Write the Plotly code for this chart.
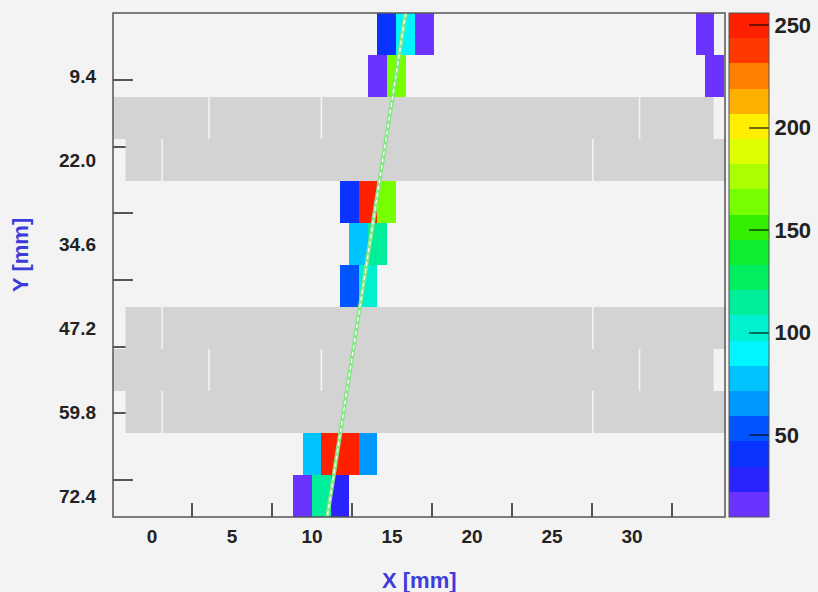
import numpy as np
import plotly.graph_objects as go

# ---------------- data ----------------
x_label_vals = [0, 5, 10, 15, 20, 25, 30]
x_tick_marks = [2.5, 7.5, 12.5, 17.5, 22.5, 27.5, 32.5]
y_label_vals = [9.4, 22.0, 34.6, 47.2, 59.8, 72.4]
y_label_text = ["9.4", "22.0", "34.6", "47.2", "59.8", "72.4"]
y_tick_marks = [10, 20, 30, 40, 50, 60, 70]
cbar_ticks = [50, 100, 150, 200, 250]

# hit cells: row index, left edge [mm], content
cell_rows = [0, 0, 0, 0, 1, 1, 1, 4, 4, 4, 5, 5, 6, 6, 10, 10, 10, 10, 11, 11, 11]
cell_x_left = [14.09, 15.26, 16.43, 33.98, 13.505, 14.675, 34.565, 11.75, 12.92, 14.09,
               12.335, 13.505, 11.75, 12.92, 9.41, 10.58, 11.75, 12.92, 8.825, 9.995, 11.165]
cell_values = [41, 90, 16, 16, 18, 166, 15, 40, 250, 168,
               79, 116, 54, 103, 78, 247, 246, 66, 17, 118, 29]

# inactive (grey) rows and their segment edges [mm]
gray_rows = [2, 3, 7, 8, 9]
gray_edges_even = [-2.875, 3.56, 10.58, 30.47, 35.15]
gray_edges_odd = [-1.705, 0.635, 27.545, 36.32]

# fitted track
fit_y = [-0.05, 75.55]
fit_x = [15.85, 10.95]

# ---------------- geometry / style ----------------
HALF = 0.585
X0 = -2.875
NCOL = 67
ROW0 = -0.05
ROW_H = 6.3
NROW = 12
ZMIN, ZMAX = 10, 256

band_colors = ["#6a33ff", "#2a22ff", "#0a33ff", "#0055ff", "#0099ff", "#00c4ff",
               "#00f6ff", "#00f0d0", "#00ee99", "#00ee60", "#10ec30", "#33ee00",
               "#77ff00", "#aaff00", "#ddff00", "#ffee00", "#ffb000", "#ff8000",
               "#ff3800", "#ff2000"]
nb = len(band_colors)
colorscale = []
for k, c in enumerate(band_colors):
    colorscale.append([k / nb, c])
    colorscale.append([(k + 1) / nb, c])

z = np.full((NROW, NCOL), np.nan)
for r, xl, v in zip(cell_rows, cell_x_left, cell_values):
    c = int(round((xl - X0) / HALF))
    z[r, c] = v
    z[r, c + 1] = v
x_edges = X0 + HALF * np.arange(NCOL + 1)
y_edges = ROW0 + ROW_H * np.arange(NROW + 1)

gx, gy = [], []
gap = 0.05
for r in gray_rows:
    edges = gray_edges_even if r % 2 == 0 else gray_edges_odd
    y0 = ROW0 + ROW_H * r
    y1 = y0 + ROW_H
    for a, b in zip(edges[:-1], edges[1:]):
        a2, b2 = a + gap, b - gap
        gx += [a2, b2, b2, a2, a2, None]
        gy += [y0, y0, y1, y1, y0, None]

BG = "#f3f3f3"
FONT = "Liberation Sans"
lab_font = dict(family=FONT, size=19, color="#222222", weight="bold")
cb_font = dict(family=FONT, size=22, color="#222222", weight="bold")
title_font = dict(family=FONT, size=22, color="#3c3cdc", weight="bold")

fig = go.Figure()
fig.add_trace(go.Scatter(x=gx, y=gy, mode="lines", fill="toself", fillcolor="#d3d3d3",
                         line=dict(width=0, color="#d3d3d3"), hoverinfo="skip", showlegend=False))
fig.add_trace(go.Heatmap(
    z=z, x=x_edges, y=y_edges, zmin=ZMIN, zmax=ZMAX, colorscale=colorscale,
    hoverongaps=False,
    colorbar=dict(x=(729 - 113) / 612, xanchor="left", y=1, yanchor="top", len=1,
                  thickness=40, xpad=0, ypad=0, outlinewidth=1, outlinecolor="#555",
                  tickmode="array", tickvals=cbar_ticks, ticks="inside", ticklen=20,
                  tickwidth=2, tickcolor="rgba(0,0,0,0.55)", tickfont=cb_font)))
fig.add_trace(go.Scatter(x=fit_x, y=fit_y, mode="lines", line=dict(color="#86e686", width=4),
                         hoverinfo="skip", showlegend=False))
fig.add_trace(go.Scatter(x=fit_x, y=fit_y, mode="lines",
                         line=dict(color="#ffffff", width=1.3, dash="4px,3px"),
                         hoverinfo="skip", showlegend=False))

fig.update_layout(
    width=818, height=592,
    margin=dict(l=113, r=93, t=13, b=75, autoexpand=False),
    paper_bgcolor=BG, plot_bgcolor=BG,
    showlegend=False,
    xaxis=dict(range=[-2.44, 35.81], showgrid=False, zeroline=False, showline=False,
               tickmode="array", tickvals=x_label_vals, ticks="inside", ticklen=0,
               tickfont=lab_font, ticklabelstandoff=6, layer="below traces",
               minor=dict(tickmode="array", tickvals=x_tick_marks, ticks="inside",
                          ticklen=14, tickwidth=1.5, tickcolor="#555", showgrid=False)),
    yaxis=dict(range=[75.55, -0.05], showgrid=False, zeroline=False, showline=False,
               tickmode="array", tickvals=y_label_vals, ticktext=y_label_text,
               ticks="inside", ticklen=0, tickfont=lab_font, ticklabelstandoff=16,
               layer="below traces",
               minor=dict(tickmode="array", tickvals=y_tick_marks, ticks="inside",
                          ticklen=20, tickwidth=1.5, tickcolor="#555", showgrid=False)),
    shapes=[dict(type="rect", xref="paper", yref="paper", x0=0, x1=1, y0=0, y1=1,
                 line=dict(color="#555", width=1.5), layer="above")],
    annotations=[
        dict(text="X [mm]", xref="paper", yref="paper", x=0.5, y=-(580 - 517) / 504,
             xanchor="center", yanchor="middle", showarrow=False, font=title_font),
        dict(text="Y [mm]", xref="paper", yref="paper", x=(21 - 113) / 612, y=0.52,
             xanchor="center", yanchor="middle", showarrow=False, textangle=-90, font=title_font),
    ],
)

fig.write_html(
    "out.html",
    config={"displayModeBar": False},
    post_script="document.body.style.margin='0';document.body.style.background='#f3f3f3';",
)
